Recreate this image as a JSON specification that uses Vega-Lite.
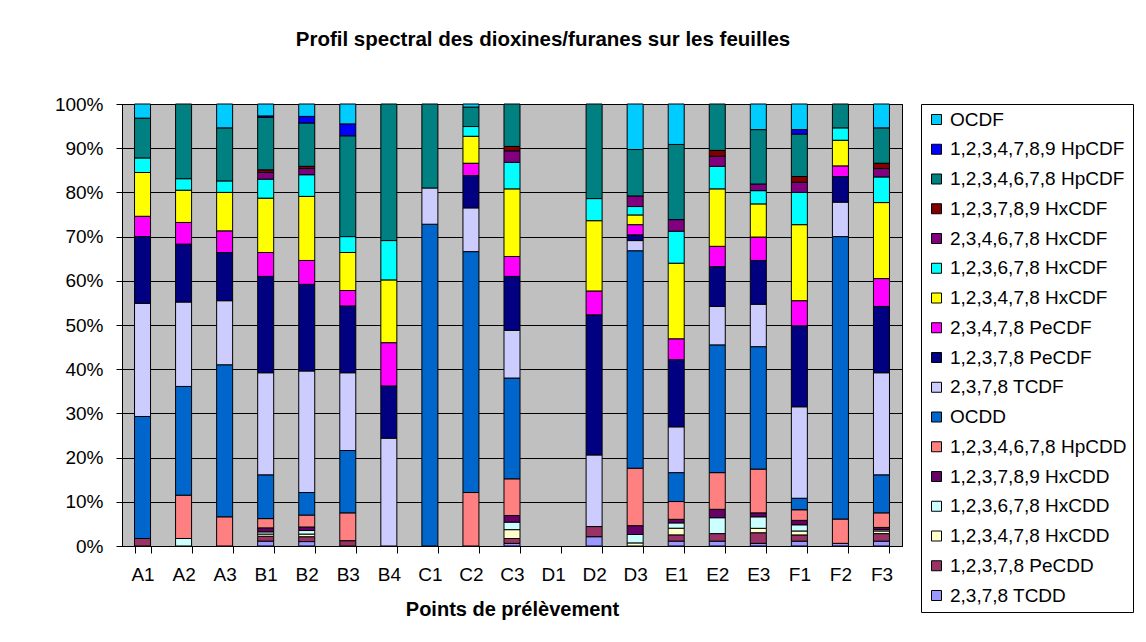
{
  "$schema": "https://vega.github.io/schema/vega-lite/v6.json",
  "autosize": {"type": "none"},
  "width": 780,
  "height": 442,
  "padding": {"left": 122, "top": 104, "right": 244, "bottom": 96},
  "background": "white",
  "title": {"text": "Profil spectral des dioxines/furanes sur les feuilles", "font": "Liberation Sans", "fontSize": 20.5, "fontWeight": "bold", "color": "black", "anchor": "middle", "dx": 31, "offset": 45},
  "data": {"values": [
    {"p":"A1","c":"1,2,3,7,8 PeCDD","v":1.7},{"p":"A1","c":"OCDD","v":27.6},{"p":"A1","c":"2,3,7,8 TCDF","v":25.6},{"p":"A1","c":"1,2,3,7,8 PeCDF","v":15.1},{"p":"A1","c":"2,3,4,7,8 PeCDF","v":4.6},{"p":"A1","c":"1,2,3,4,7,8 HxCDF","v":9.9},{"p":"A1","c":"1,2,3,6,7,8 HxCDF","v":3.3},{"p":"A1","c":"1,2,3,4,6,7,8 HpCDF","v":9.0},{"p":"A1","c":"OCDF","v":3.2},
    {"p":"A2","c":"1,2,3,6,7,8 HxCDD","v":1.7},{"p":"A2","c":"1,2,3,4,6,7,8 HpCDD","v":9.8},{"p":"A2","c":"OCDD","v":24.6},{"p":"A2","c":"2,3,7,8 TCDF","v":19.1},{"p":"A2","c":"1,2,3,7,8 PeCDF","v":13.1},{"p":"A2","c":"2,3,4,7,8 PeCDF","v":4.9},{"p":"A2","c":"1,2,3,4,7,8 HxCDF","v":7.3},{"p":"A2","c":"1,2,3,6,7,8 HxCDF","v":2.6},{"p":"A2","c":"1,2,3,4,6,7,8 HpCDF","v":16.9},
    {"p":"A3","c":"1,2,3,4,6,7,8 HpCDD","v":6.6},{"p":"A3","c":"OCDD","v":34.4},{"p":"A3","c":"2,3,7,8 TCDF","v":14.5},{"p":"A3","c":"1,2,3,7,8 PeCDF","v":10.9},{"p":"A3","c":"2,3,4,7,8 PeCDF","v":4.9},{"p":"A3","c":"1,2,3,4,7,8 HxCDF","v":8.7},{"p":"A3","c":"1,2,3,6,7,8 HxCDF","v":2.6},{"p":"A3","c":"1,2,3,4,6,7,8 HpCDF","v":12.0},{"p":"A3","c":"OCDF","v":5.4},
    {"p":"B1","c":"2,3,7,8 TCDD","v":1.1},{"p":"B1","c":"1,2,3,7,8 PeCDD","v":1.1},{"p":"B1","c":"1,2,3,4,7,8 HxCDD","v":0.5},{"p":"B1","c":"1,2,3,6,7,8 HxCDD","v":0.5},{"p":"B1","c":"1,2,3,7,8,9 HxCDD","v":0.9},{"p":"B1","c":"1,2,3,4,6,7,8 HpCDD","v":2.1},{"p":"B1","c":"OCDD","v":9.9},{"p":"B1","c":"2,3,7,8 TCDF","v":23.1},{"p":"B1","c":"1,2,3,7,8 PeCDF","v":21.8},{"p":"B1","c":"2,3,4,7,8 PeCDF","v":5.4},{"p":"B1","c":"1,2,3,4,7,8 HxCDF","v":12.3},{"p":"B1","c":"1,2,3,6,7,8 HxCDF","v":4.3},{"p":"B1","c":"2,3,4,6,7,8 HxCDF","v":1.5},{"p":"B1","c":"1,2,3,7,8,9 HxCDF","v":0.6},{"p":"B1","c":"1,2,3,4,6,7,8 HpCDF","v":11.9},{"p":"B1","c":"1,2,3,4,7,8,9 HpCDF","v":0.3},{"p":"B1","c":"OCDF","v":2.7},
    {"p":"B2","c":"2,3,7,8 TCDD","v":1.0},{"p":"B2","c":"1,2,3,7,8 PeCDD","v":1.1},{"p":"B2","c":"1,2,3,4,7,8 HxCDD","v":0.6},{"p":"B2","c":"1,2,3,6,7,8 HxCDD","v":0.8},{"p":"B2","c":"1,2,3,7,8,9 HxCDD","v":0.8},{"p":"B2","c":"1,2,3,4,6,7,8 HpCDD","v":2.7},{"p":"B2","c":"OCDD","v":5.1},{"p":"B2","c":"2,3,7,8 TCDF","v":27.5},{"p":"B2","c":"1,2,3,7,8 PeCDF","v":19.6},{"p":"B2","c":"2,3,4,7,8 PeCDF","v":5.4},{"p":"B2","c":"1,2,3,4,7,8 HxCDF","v":14.5},{"p":"B2","c":"1,2,3,6,7,8 HxCDF","v":4.9},{"p":"B2","c":"2,3,4,6,7,8 HxCDF","v":1.4},{"p":"B2","c":"1,2,3,7,8,9 HxCDF","v":0.5},{"p":"B2","c":"1,2,3,4,6,7,8 HpCDF","v":9.8},{"p":"B2","c":"1,2,3,4,7,8,9 HpCDF","v":1.5},{"p":"B2","c":"OCDF","v":2.8},
    {"p":"B3","c":"1,2,3,7,8 PeCDD","v":1.2},{"p":"B3","c":"1,2,3,4,6,7,8 HpCDD","v":6.3},{"p":"B3","c":"OCDD","v":14.1},{"p":"B3","c":"2,3,7,8 TCDF","v":17.6},{"p":"B3","c":"1,2,3,7,8 PeCDF","v":15.1},{"p":"B3","c":"2,3,4,7,8 PeCDF","v":3.5},{"p":"B3","c":"1,2,3,4,7,8 HxCDF","v":8.6},{"p":"B3","c":"1,2,3,6,7,8 HxCDF","v":3.6},{"p":"B3","c":"1,2,3,4,6,7,8 HpCDF","v":22.8},{"p":"B3","c":"1,2,3,4,7,8,9 HpCDF","v":2.7},{"p":"B3","c":"OCDF","v":4.5},
    {"p":"B4","c":"2,3,7,8 TCDF","v":24.4},{"p":"B4","c":"1,2,3,7,8 PeCDF","v":11.8},{"p":"B4","c":"2,3,4,7,8 PeCDF","v":9.8},{"p":"B4","c":"1,2,3,4,7,8 HxCDF","v":14.2},{"p":"B4","c":"1,2,3,6,7,8 HxCDF","v":8.9},{"p":"B4","c":"1,2,3,4,6,7,8 HpCDF","v":30.9},
    {"p":"C1","c":"OCDD","v":72.8},{"p":"C1","c":"2,3,7,8 TCDF","v":8.2},{"p":"C1","c":"1,2,3,4,6,7,8 HpCDF","v":19.0},
    {"p":"C2","c":"1,2,3,4,6,7,8 HpCDD","v":12.1},{"p":"C2","c":"OCDD","v":54.5},{"p":"C2","c":"2,3,7,8 TCDF","v":9.9},{"p":"C2","c":"1,2,3,7,8 PeCDF","v":7.3},{"p":"C2","c":"2,3,4,7,8 PeCDF","v":2.8},{"p":"C2","c":"1,2,3,4,7,8 HxCDF","v":6.1},{"p":"C2","c":"1,2,3,6,7,8 HxCDF","v":2.2},{"p":"C2","c":"1,2,3,4,6,7,8 HpCDF","v":4.4},{"p":"C2","c":"OCDF","v":0.7},
    {"p":"C3","c":"2,3,7,8 TCDD","v":0.6},{"p":"C3","c":"1,2,3,7,8 PeCDD","v":1.1},{"p":"C3","c":"1,2,3,4,7,8 HxCDD","v":2.0},{"p":"C3","c":"1,2,3,6,7,8 HxCDD","v":1.7},{"p":"C3","c":"1,2,3,7,8,9 HxCDD","v":1.5},{"p":"C3","c":"1,2,3,4,6,7,8 HpCDD","v":8.3},{"p":"C3","c":"OCDD","v":22.8},{"p":"C3","c":"2,3,7,8 TCDF","v":10.8},{"p":"C3","c":"1,2,3,7,8 PeCDF","v":12.2},{"p":"C3","c":"2,3,4,7,8 PeCDF","v":4.5},{"p":"C3","c":"1,2,3,4,7,8 HxCDF","v":15.3},{"p":"C3","c":"1,2,3,6,7,8 HxCDF","v":6.0},{"p":"C3","c":"2,3,4,6,7,8 HxCDF","v":2.6},{"p":"C3","c":"1,2,3,7,8,9 HxCDF","v":1.0},{"p":"C3","c":"1,2,3,4,6,7,8 HpCDF","v":9.6},
    {"p":"D2","c":"2,3,7,8 TCDD","v":2.1},{"p":"D2","c":"1,2,3,7,8 PeCDD","v":2.3},{"p":"D2","c":"2,3,7,8 TCDF","v":16.2},{"p":"D2","c":"1,2,3,7,8 PeCDF","v":31.7},{"p":"D2","c":"2,3,4,7,8 PeCDF","v":5.4},{"p":"D2","c":"1,2,3,4,7,8 HxCDF","v":15.9},{"p":"D2","c":"1,2,3,6,7,8 HxCDF","v":5.0},{"p":"D2","c":"1,2,3,4,6,7,8 HpCDF","v":21.4},
    {"p":"D3","c":"1,2,3,4,7,8 HxCDD","v":0.7},{"p":"D3","c":"1,2,3,6,7,8 HxCDD","v":1.9},{"p":"D3","c":"1,2,3,7,8,9 HxCDD","v":2.0},{"p":"D3","c":"1,2,3,4,6,7,8 HpCDD","v":13.0},{"p":"D3","c":"OCDD","v":49.2},{"p":"D3","c":"2,3,7,8 TCDF","v":2.3},{"p":"D3","c":"1,2,3,7,8 PeCDF","v":1.3},{"p":"D3","c":"2,3,4,7,8 PeCDF","v":2.3},{"p":"D3","c":"1,2,3,4,7,8 HxCDF","v":2.2},{"p":"D3","c":"1,2,3,6,7,8 HxCDF","v":1.9},{"p":"D3","c":"2,3,4,6,7,8 HxCDF","v":2.4},{"p":"D3","c":"1,2,3,4,6,7,8 HpCDF","v":10.5},{"p":"D3","c":"OCDF","v":10.3},
    {"p":"E1","c":"2,3,7,8 TCDD","v":1.1},{"p":"E1","c":"1,2,3,7,8 PeCDD","v":1.4},{"p":"E1","c":"1,2,3,4,7,8 HxCDD","v":1.5},{"p":"E1","c":"1,2,3,6,7,8 HxCDD","v":1.2},{"p":"E1","c":"1,2,3,7,8,9 HxCDD","v":0.8},{"p":"E1","c":"1,2,3,4,6,7,8 HpCDD","v":4.0},{"p":"E1","c":"OCDD","v":6.5},{"p":"E1","c":"2,3,7,8 TCDF","v":10.3},{"p":"E1","c":"1,2,3,7,8 PeCDF","v":15.1},{"p":"E1","c":"2,3,4,7,8 PeCDF","v":4.7},{"p":"E1","c":"1,2,3,4,7,8 HxCDF","v":17.0},{"p":"E1","c":"1,2,3,6,7,8 HxCDF","v":7.2},{"p":"E1","c":"2,3,4,6,7,8 HxCDF","v":2.6},{"p":"E1","c":"1,2,3,4,6,7,8 HpCDF","v":16.9},{"p":"E1","c":"OCDF","v":9.1},
    {"p":"E2","c":"2,3,7,8 TCDD","v":1.1},{"p":"E2","c":"1,2,3,7,8 PeCDD","v":1.7},{"p":"E2","c":"1,2,3,6,7,8 HxCDD","v":3.6},{"p":"E2","c":"1,2,3,7,8,9 HxCDD","v":1.9},{"p":"E2","c":"1,2,3,4,6,7,8 HpCDD","v":8.3},{"p":"E2","c":"OCDD","v":28.9},{"p":"E2","c":"2,3,7,8 TCDF","v":8.7},{"p":"E2","c":"1,2,3,7,8 PeCDF","v":9.0},{"p":"E2","c":"2,3,4,7,8 PeCDF","v":4.6},{"p":"E2","c":"1,2,3,4,7,8 HxCDF","v":13.0},{"p":"E2","c":"1,2,3,6,7,8 HxCDF","v":5.1},{"p":"E2","c":"2,3,4,6,7,8 HxCDF","v":2.3},{"p":"E2","c":"1,2,3,7,8,9 HxCDF","v":1.3},{"p":"E2","c":"1,2,3,4,6,7,8 HpCDF","v":10.5},
    {"p":"E3","c":"2,3,7,8 TCDD","v":0.6},{"p":"E3","c":"1,2,3,7,8 PeCDD","v":2.4},{"p":"E3","c":"1,2,3,4,7,8 HxCDD","v":1.0},{"p":"E3","c":"1,2,3,6,7,8 HxCDD","v":2.6},{"p":"E3","c":"1,2,3,7,8,9 HxCDD","v":0.9},{"p":"E3","c":"1,2,3,4,6,7,8 HpCDD","v":9.9},{"p":"E3","c":"OCDD","v":27.7},{"p":"E3","c":"2,3,7,8 TCDF","v":9.6},{"p":"E3","c":"1,2,3,7,8 PeCDF","v":9.9},{"p":"E3","c":"2,3,4,7,8 PeCDF","v":5.3},{"p":"E3","c":"1,2,3,4,7,8 HxCDF","v":7.5},{"p":"E3","c":"1,2,3,6,7,8 HxCDF","v":3.0},{"p":"E3","c":"2,3,4,6,7,8 HxCDF","v":1.5},{"p":"E3","c":"1,2,3,4,6,7,8 HpCDF","v":12.3},{"p":"E3","c":"OCDF","v":5.8},
    {"p":"F1","c":"2,3,7,8 TCDD","v":1.1},{"p":"F1","c":"1,2,3,7,8 PeCDD","v":1.4},{"p":"F1","c":"1,2,3,4,7,8 HxCDD","v":0.9},{"p":"F1","c":"1,2,3,6,7,8 HxCDD","v":1.4},{"p":"F1","c":"1,2,3,7,8,9 HxCDD","v":1.0},{"p":"F1","c":"1,2,3,4,6,7,8 HpCDD","v":2.4},{"p":"F1","c":"OCDD","v":2.6},{"p":"F1","c":"2,3,7,8 TCDF","v":20.7},{"p":"F1","c":"1,2,3,7,8 PeCDF","v":18.3},{"p":"F1","c":"2,3,4,7,8 PeCDF","v":5.7},{"p":"F1","c":"1,2,3,4,7,8 HxCDF","v":17.2},{"p":"F1","c":"1,2,3,6,7,8 HxCDF","v":7.3},{"p":"F1","c":"2,3,4,6,7,8 HxCDF","v":2.3},{"p":"F1","c":"1,2,3,7,8,9 HxCDF","v":1.3},{"p":"F1","c":"1,2,3,4,6,7,8 HpCDF","v":9.6},{"p":"F1","c":"1,2,3,4,7,8,9 HpCDF","v":1.0},{"p":"F1","c":"OCDF","v":5.8},
    {"p":"F2","c":"2,3,7,8 TCDD","v":0.6},{"p":"F2","c":"1,2,3,4,6,7,8 HpCDD","v":5.5},{"p":"F2","c":"OCDD","v":63.9},{"p":"F2","c":"2,3,7,8 TCDF","v":7.8},{"p":"F2","c":"1,2,3,7,8 PeCDF","v":5.8},{"p":"F2","c":"2,3,4,7,8 PeCDF","v":2.4},{"p":"F2","c":"1,2,3,4,7,8 HxCDF","v":5.8},{"p":"F2","c":"1,2,3,6,7,8 HxCDF","v":2.8},{"p":"F2","c":"1,2,3,4,6,7,8 HpCDF","v":5.4},
    {"p":"F3","c":"2,3,7,8 TCDD","v":1.1},{"p":"F3","c":"1,2,3,7,8 PeCDD","v":1.7},{"p":"F3","c":"1,2,3,4,7,8 HxCDD","v":0.6},{"p":"F3","c":"1,2,3,6,7,8 HxCDD","v":0.3},{"p":"F3","c":"1,2,3,7,8,9 HxCDD","v":0.5},{"p":"F3","c":"1,2,3,4,6,7,8 HpCDD","v":3.3},{"p":"F3","c":"OCDD","v":8.6},{"p":"F3","c":"2,3,7,8 TCDF","v":23.1},{"p":"F3","c":"1,2,3,7,8 PeCDF","v":15.0},{"p":"F3","c":"2,3,4,7,8 PeCDF","v":6.3},{"p":"F3","c":"1,2,3,4,7,8 HxCDF","v":17.2},{"p":"F3","c":"1,2,3,6,7,8 HxCDF","v":5.8},{"p":"F3","c":"2,3,4,6,7,8 HxCDF","v":1.9},{"p":"F3","c":"1,2,3,7,8,9 HxCDF","v":1.2},{"p":"F3","c":"1,2,3,4,6,7,8 HpCDF","v":8.0},{"p":"F3","c":"OCDF","v":5.4}
  ]},
  "transform": [
    {"calculate": "indexof(['2,3,7,8 TCDD','1,2,3,7,8 PeCDD','1,2,3,4,7,8 HxCDD','1,2,3,6,7,8 HxCDD','1,2,3,7,8,9 HxCDD','1,2,3,4,6,7,8 HpCDD','OCDD','2,3,7,8 TCDF','1,2,3,7,8 PeCDF','2,3,4,7,8 PeCDF','1,2,3,4,7,8 HxCDF','1,2,3,6,7,8 HxCDF','2,3,4,6,7,8 HxCDF','1,2,3,7,8,9 HxCDF','1,2,3,4,6,7,8 HpCDF','1,2,3,4,7,8,9 HpCDF','OCDF'], datum.c)", "as": "k"}
  ],
  "mark": {"type": "bar", "stroke": "black", "strokeWidth": 1},
  "encoding": {
    "x": {"field": "p", "type": "nominal", "title": "Points de prélèvement",
      "scale": {"domain": ["A1","A2","A3","B1","B2","B3","B4","C1","C2","C3","D1","D2","D3","E1","E2","E3","F1","F2","F3"], "paddingInner": 0.61, "paddingOuter": 0.305},
      "axis": {"labelAngle": 0, "tickBand": "extent", "domainColor": "black", "tickColor": "black", "tickSize": 7, "labelFont": "Liberation Sans", "labelFontSize": 19, "labelColor": "black", "labelPadding": 12, "titleFont": "Liberation Sans", "titleFontSize": 20, "titleFontWeight": "bold", "titleColor": "black", "titlePadding": 15}},
    "y": {"field": "v", "type": "quantitative", "stack": "normalize", "title": null,
      "scale": {"domain": [0, 1]},
      "axis": {"values": [0,0.1,0.2,0.3,0.4,0.5,0.6,0.7,0.8,0.9,1], "format": ".0%", "grid": true, "gridColor": "black", "gridOpacity": 1, "gridWidth": 1, "domainColor": "black", "tickColor": "black", "tickSize": 6, "labelFont": "Liberation Sans", "labelFontSize": 19, "labelColor": "black", "labelPadding": 13}},
    "color": {"field": "c", "type": "nominal",
      "scale": {
        "domain": ["OCDF","1,2,3,4,7,8,9 HpCDF","1,2,3,4,6,7,8 HpCDF","1,2,3,7,8,9 HxCDF","2,3,4,6,7,8 HxCDF","1,2,3,6,7,8 HxCDF","1,2,3,4,7,8 HxCDF","2,3,4,7,8 PeCDF","1,2,3,7,8 PeCDF","2,3,7,8 TCDF","OCDD","1,2,3,4,6,7,8 HpCDD","1,2,3,7,8,9 HxCDD","1,2,3,6,7,8 HxCDD","1,2,3,4,7,8 HxCDD","1,2,3,7,8 PeCDD","2,3,7,8 TCDD"],
        "range": ["#00CCFF","#0000FF","#008080","#800000","#800080","#00FFFF","#FFFF00","#FF00FF","#000080","#CCCCFF","#0066CC","#FF8080","#660066","#CCFFFF","#FFFFCC","#993366","#9999FF"]},
      "legend": {"title": null, "orient": "none", "legendX": 799, "legendY": 0, "strokeColor": "black", "fillColor": "white", "padding": 6, "symbolType": "square", "symbolSize": 100, "symbolStrokeColor": "black", "symbolStrokeWidth": 1, "symbolOpacity": 1, "labelFont": "Liberation Sans", "labelFontSize": 19, "labelColor": "black", "labelOffset": 4, "labelLimit": 300, "rowPadding": 9.75}},
    "order": {"field": "k", "type": "quantitative", "sort": "ascending"}
  },
  "config": {"view": {"fill": "#C0C0C0", "stroke": "black", "strokeWidth": 1}}
}
